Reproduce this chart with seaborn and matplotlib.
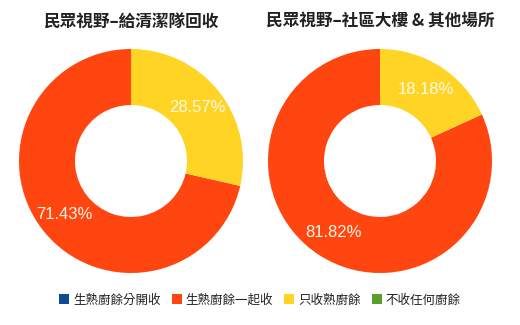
import matplotlib
matplotlib.use("Agg")
import matplotlib.pyplot as plt
from matplotlib.lines import Line2D
import seaborn as sns

categories = ["生熟廚餘分開收", "生熟廚餘一起收", "只收熟廚餘", "不收任何廚餘"]
titles = ["民眾視野–給清潔隊回收", "民眾視野–社區大樓 & 其他場所"]
values_cleaning = [0, 71.43, 28.57, 0]
values_building = [0, 81.82, 18.18, 0]
colors = ["#0D4C8E", "#FF4510", "#FFD424", "#5B9F2B"]

sns.set_theme(style="white")
plt.rcParams['font.family'] = ['Noto Sans CJK TC', 'DejaVu Sans']

fig = plt.figure(figsize=(5.2, 3.25), dpi=100)
W, H = 520, 325
R = 112
centers = [(131, 161), (380, 161)]

for (cx, cy), vals, title in zip(centers, [values_cleaning, values_building], titles):
    ax = fig.add_axes([(cx - R) / W, (H - cy - R) / H, 2 * R / W, 2 * R / H])
    data = [(v, c) for v, c in zip(vals, colors) if v > 0]
    wedges, texts, autotexts = ax.pie(
        [d[0] for d in data], colors=[d[1] for d in data],
        startangle=90, counterclock=True,
        wedgeprops=dict(width=0.5, linewidth=0),
        autopct=lambda p: f"{p:.2f}%", pctdistance=0.76,
        textprops=dict(color="#FFF8E8", fontsize=12, family=['Liberation Sans', 'DejaVu Sans']))
    ax.set_aspect("equal")
    ax.set_xlim(-1, 1)
    ax.set_ylim(-1, 1)
    ax.axis("off")
    fig.text(cx / W, (H - 22) / H, title, ha="center", va="center",
             fontsize=12, fontweight="bold", color="#222222")

handles = [Line2D([0], [0], marker="s", color="w", markerfacecolor=c,
                  markeredgewidth=0, markersize=7) for c in colors]
fig.legend(handles, categories, loc="center", bbox_to_anchor=(0.5, (H - 300) / H),
           ncol=4, frameon=False, fontsize=9, handlelength=0.8,
           handletextpad=0.3, columnspacing=0.9, labelcolor="#222222",
           prop=dict(family=['Noto Sans CJK TC', 'DejaVu Sans'], size=9, weight='medium'))

fig.savefig("out.png", dpi=100, facecolor="white")
